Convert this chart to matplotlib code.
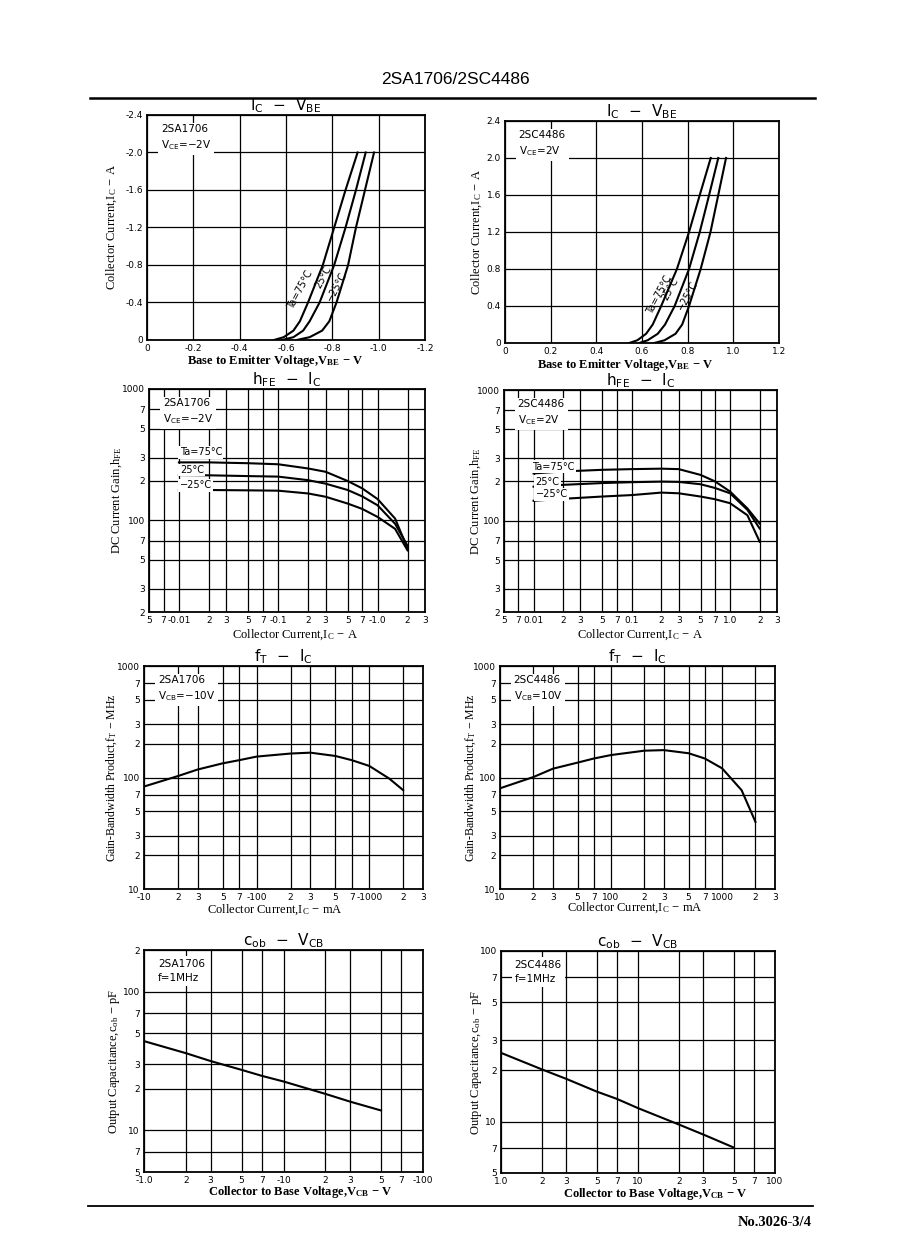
import matplotlib
matplotlib.use('Agg')
import matplotlib.pyplot as plt
from matplotlib.lines import Line2D

plt.rcParams['font.family'] = ['DejaVu Sans']
plt.rcParams['mathtext.fontset'] = 'stix'

# ---- data ----
# IC - VBE, 2SA1706 (VBE in V, IC in A, PNP so both negative)
ic_a = [0, -0.03, -0.1, -0.2, -0.4, -0.8, -1.2, -1.6, -2.0]
vbe_a_75 = [-0.548, -0.59, -0.632, -0.66, -0.695, -0.759, -0.808, -0.857, -0.909]
vbe_a_25 = [-0.583, -0.632, -0.674, -0.702, -0.745, -0.808, -0.857, -0.902, -0.944]
vbe_a_m25 = [-0.646, -0.702, -0.756, -0.787, -0.818, -0.868, -0.902, -0.941, -0.98]

# IC - VBE, 2SC4486
ic_c = [0, 0.03, 0.1, 0.2, 0.4, 0.8, 1.2, 1.6, 2.0]
vbe_c_75 = [0.544, 0.58, 0.618, 0.647, 0.684, 0.753, 0.806, 0.853, 0.901]
vbe_c_25 = [0.588, 0.625, 0.669, 0.701, 0.743, 0.806, 0.853, 0.894, 0.934]
vbe_c_m25 = [0.654, 0.699, 0.747, 0.776, 0.806, 0.857, 0.9, 0.934, 0.968]

# hFE - IC (IC magnitude in A)
hfe_ic = [0.01, 0.02, 0.05, 0.1, 0.2, 0.3, 0.5, 0.7, 1.0, 1.5, 2.0]
hfe_a_75 = [276, 276, 272, 267, 248, 234, 199, 175, 145, 103, 61]
hfe_a_25 = [221, 220, 217, 215, 202, 190, 170, 152, 130, 94, 64]
hfe_a_m25 = [170, 170, 169, 168, 160, 151, 134, 122, 106, 86, 59]
hfe_c_75 = [230, 238, 245, 248, 250, 248, 224, 200, 167, 124, 95]
hfe_c_25 = [182, 188, 194, 197, 199, 198, 190, 178, 162, 121, 87]
hfe_c_m25 = [142, 147, 153, 157, 164, 162, 153, 146, 136, 110, 69]

# fT - IC (IC magnitude in mA, fT in MHz)
ft_ic = [10, 20, 30, 50, 70, 100, 200, 300, 500, 700, 1000, 1500, 2000]
ft_a = [83, 103, 118, 134, 143, 154, 164, 167, 156, 143, 127, 98, 77]
ft_c = [80, 101, 120, 136, 148, 159, 174, 176, 165, 148, 121, 77, 40]

# Cob - VCB (VCB magnitude in V, Cob in pF)
cob_v = [1, 2, 3, 5, 7, 10, 20, 30, 50]
cob_a = [44, 36, 31.6, 27.3, 24.7, 22.5, 18.3, 16.1, 13.9]
cob_c = [25.3, 20.2, 17.8, 15.0, 13.6, 12.0, 9.6, 8.4, 7.05]

# tick values / labels
vbe_ticks = [0, 0.2, 0.4, 0.6, 0.8, 1.0, 1.2]
ic_ticks = [0, 0.4, 0.8, 1.2, 1.6, 2.0, 2.4]
hfe_xt = [0.005, 0.007, 0.01, 0.02, 0.03, 0.05, 0.07, 0.1, 0.2, 0.3, 0.5, 0.7, 1.0, 2, 3]
hfe_xl_a = ['5', '7', '-0.01', '2', '3', '5', '7', '-0.1', '2', '3', '5', '7', '-1.0', '2', '3']
hfe_xl_c = ['5', '7', '0.01', '2', '3', '5', '7', '0.1', '2', '3', '5', '7', '1.0', '2', '3']
hfe_yt = [20, 30, 50, 70, 100, 200, 300, 500, 700, 1000]
hfe_yl = ['2', '3', '5', '7', '100', '2', '3', '5', '7', '1000']
ft_xt = [10, 20, 30, 50, 70, 100, 200, 300, 500, 700, 1000, 2000, 3000]
ft_xl_a = ['-10', '2', '3', '5', '7', '-100', '2', '3', '5', '7', '-1000', '2', '3']
ft_xl_c = ['10', '2', '3', '5', '7', '100', '2', '3', '5', '7', '1000', '2', '3']
ft_yt = [10, 20, 30, 50, 70, 100, 200, 300, 500, 700, 1000]
ft_yl = ['10', '2', '3', '5', '7', '100', '2', '3', '5', '7', '1000']
cob_xt = [1, 2, 3, 5, 7, 10, 20, 30, 50, 70, 100]
cob_xl_a = ['-1.0', '2', '3', '5', '7', '-10', '2', '3', '5', '7', '-100']
cob_xl_c = ['1.0', '2', '3', '5', '7', '10', '2', '3', '5', '7', '100']
cob_yt_a = [5, 7, 10, 20, 30, 50, 70, 100, 200]
cob_yl_a = ['5', '7', '10', '2', '3', '5', '7', '100', '2']
cob_yt_c = [5, 7, 10, 20, 30, 50, 70, 100]
cob_yl_c = ['5', '7', '10', '2', '3', '5', '7', '100']

W, H = 898, 1260
fig = plt.figure(figsize=(W / 100, H / 100), dpi=100)
fig.patch.set_facecolor('white')

SERIF = ['Liberation Serif', 'DejaVu Serif']


def panel(box, title, xlabel, ylabel, xlab_c, ylab_c, scale='linear', ysize=9):
    l, t, r, b = box
    ax = fig.add_axes([l / W, 1 - b / H, (r - l) / W, (b - t) / H])
    ax.set_xscale(scale)
    ax.set_yscale(scale)
    ax.set_title(title, fontsize=11, pad=2)
    ax.set_xlabel(xlabel, family=SERIF, fontsize=9, fontweight='bold')
    ax.set_ylabel(ylabel, family=SERIF, fontsize=ysize)
    ax.xaxis.set_label_coords((xlab_c[0] - l) / (r - l), -(xlab_c[1] - b) / (b - t))
    ax.yaxis.set_label_coords((ylab_c - l) / (r - l), 0.5)
    ax.xaxis.label.set_va('center')
    ax.yaxis.label.set_va('center')
    ax.tick_params(length=0, labelsize=6.5, pad=3)
    for s in ax.spines.values():
        s.set_linewidth(1.3)
    return ax


def finish(ax, xt, xl, yt, yl):
    ax.set_xticks(xt, xl)
    ax.set_yticks(yt, yl)
    ax.minorticks_off()
    ax.grid(True, color='black', lw=0.9)
    ax.set_axisbelow(True)


def note(ax, txt):
    ax.text(0.05, 0.96, txt, transform=ax.transAxes, va='top', ha='left', fontsize=7.5,
            linespacing=1.5, bbox=dict(facecolor='white', edgecolor='none', pad=2))


def sub(s):
    return r'$_{\mathregular{%s}}$' % s


# --- IC - VBE ---
t_icvbe = 'I' + sub('C') + '  −  V' + sub('BE')
ax1 = panel((147, 115, 425, 340), t_icvbe, 'Base to Emitter Voltage,V' + sub('BE') + ' − V',
            'Collector Current,I' + sub('C') + ' − A', (275, 361), 112)
for v in (vbe_a_75, vbe_a_25, vbe_a_m25):
    ax1.plot(v, ic_a, color='black', lw=1.5)
ax1.set_xlim(0, -1.2)
ax1.set_ylim(0, -2.4)
finish(ax1, [-v for v in vbe_ticks], ['0'] + ['-%.1f' % v for v in vbe_ticks[1:]],
       [-v for v in ic_ticks], ['0'] + ['-%.1f' % v for v in ic_ticks[1:]])
note(ax1, '2SA1706\nV' + sub('CE') + '=−2V')
cl = dict(rotation=62, fontsize=7, ha='center', va='center')
ax1.text(-0.66, -0.53, 'Ta=75°C', **cl)
ax1.text(-0.759, -0.67, '25°C', **cl)
ax1.text(-0.818, -0.57, '−25°C', **cl)

ax2 = panel((505, 121, 779, 343), t_icvbe, 'Base to Emitter Voltage,V' + sub('BE') + ' − V',
            'Collector Current,I' + sub('C') + ' − A', (625, 365), 477)
for v in (vbe_c_75, vbe_c_25, vbe_c_m25):
    ax2.plot(v, ic_c, color='black', lw=1.5)
ax2.set_xlim(0, 1.2)
ax2.set_ylim(0, 2.4)
finish(ax2, vbe_ticks, ['0'] + ['%.1f' % v for v in vbe_ticks[1:]],
       ic_ticks, ['0'] + ['%.1f' % v for v in ic_ticks[1:]])
note(ax2, '2SC4486\nV' + sub('CE') + '=2V')
ax2.text(0.674, 0.52, 'Ta=75°C', **cl)
ax2.text(0.725, 0.58, '25°C', **cl)
ax2.text(0.801, 0.51, '−25°C', **cl)

# --- hFE - IC ---
t_hfe = 'h' + sub('FE') + '  −  I' + sub('C')
ax3 = panel((149, 389, 425, 612), t_hfe, 'Collector Current,I' + sub('C') + ' − A',
            'DC Current Gain,h' + sub('FE'), (295, 635), 117, scale='log')
for h in (hfe_a_75, hfe_a_25, hfe_a_m25):
    ax3.plot(hfe_ic, h, color='black', lw=1.5)
ax3.set_xlim(0.005, 3)
ax3.set_ylim(20, 1000)
finish(ax3, hfe_xt, hfe_xl_a, hfe_yt, hfe_yl)
ax3.xaxis.label.set_fontweight('normal')
note(ax3, '2SA1706\nV' + sub('CE') + '=−2V')
lb = dict(fontsize=7, ha='left', va='center', bbox=dict(facecolor='white', edgecolor='none', pad=1))
ax3.text(0.0102, 330, 'Ta=75°C', **lb)
ax3.text(0.0102, 241, '25°C', **lb)
ax3.text(0.0102, 185, '−25°C', **lb)

ax4 = panel((504, 390, 777, 612), t_hfe, 'Collector Current,I' + sub('C') + ' − A',
            'DC Current Gain,h' + sub('FE'), (640, 635), 476, scale='log')
for h in (hfe_c_75, hfe_c_25, hfe_c_m25):
    ax4.plot(hfe_ic, h, color='black', lw=1.5)
ax4.set_xlim(0.005, 3)
ax4.set_ylim(20, 1000)
finish(ax4, hfe_xt, hfe_xl_c, hfe_yt, hfe_yl)
ax4.xaxis.label.set_fontweight('normal')
note(ax4, '2SC4486\nV' + sub('CE') + '=2V')
ax4.text(0.0097, 259, 'Ta=75°C', **lb)
ax4.text(0.0105, 199, '25°C', **lb)
ax4.text(0.0105, 159, '−25°C', **lb)

# --- fT - IC ---
t_ft = 'f' + sub('T') + '  −  I' + sub('C')
ax5 = panel((144, 666, 423, 889), t_ft, 'Collector Current,I' + sub('C') + ' − mA',
            'Gain-Bandwidth Product,f' + sub('T') + ' − MHz', (275, 910), 112,
            scale='log', ysize=8.5)
ax5.plot(ft_ic, ft_a, color='black', lw=1.5)
ax5.set_xlim(10, 3000)
ax5.set_ylim(10, 1000)
finish(ax5, ft_xt, ft_xl_a, ft_yt, ft_yl)
ax5.xaxis.label.set_fontweight('normal')
note(ax5, '2SA1706\nV' + sub('CB') + '=−10V')

ax6 = panel((500, 666, 775, 889), t_ft, 'Collector Current,I' + sub('C') + ' − mA',
            'Gain-Bandwidth Product,f' + sub('T') + ' − MHz', (635, 908), 471,
            scale='log', ysize=8.5)
ax6.plot(ft_ic, ft_c, color='black', lw=1.5)
ax6.set_xlim(10, 3000)
ax6.set_ylim(10, 1000)
finish(ax6, ft_xt, ft_xl_c, ft_yt, ft_yl)
ax6.xaxis.label.set_fontweight('normal')
note(ax6, '2SC4486\nV' + sub('CB') + '=10V')

# --- Cob - VCB ---
t_cob = 'c' + sub('ob') + '  −  V' + sub('CB')
ax7 = panel((144, 950, 423, 1172), t_cob, 'Collector to Base Voltage,V' + sub('CB') + ' − V',
            'Output Capacitance,c' + sub('ob') + ' − pF', (300, 1192), 114, scale='log')
ax7.plot(cob_v, cob_a, color='black', lw=1.5)
ax7.set_xlim(1, 100)
ax7.set_ylim(5, 200)
finish(ax7, cob_xt, cob_xl_a, cob_yt_a, cob_yl_a)
note(ax7, '2SA1706\nf=1MHz')

ax8 = panel((501, 951, 775, 1173), t_cob, 'Collector to Base Voltage,V' + sub('CB') + ' − V',
            'Output Capacitance,c' + sub('ob') + ' − pF', (655, 1194), 477, scale='log')
ax8.plot(cob_v, cob_c, color='black', lw=1.5)
ax8.set_xlim(1, 100)
ax8.set_ylim(5, 100)
finish(ax8, cob_xt, cob_xl_c, cob_yt_c, cob_yl_c)
note(ax8, '2SC4486\nf=1MHz')

# page header / footer
fig.text(455 / W, 1 - 80 / H, '2SA1706/2SC4486', ha='center', va='center',
         fontsize=12.5, family=['Liberation Sans', 'DejaVu Sans'])
fig.add_artist(Line2D([90 / W, 815 / W], [1 - 98 / H, 1 - 98 / H], color='black', lw=1.8))
fig.add_artist(Line2D([88 / W, 813 / W], [1 - 1206 / H, 1 - 1206 / H], color='black', lw=1.3))
fig.text(812 / W, 1 - 1222 / H, 'No.3026-3/4', ha='right', va='center',
         fontsize=10.5, fontweight='bold', family=SERIF)

fig.savefig('out.png', dpi=100)
